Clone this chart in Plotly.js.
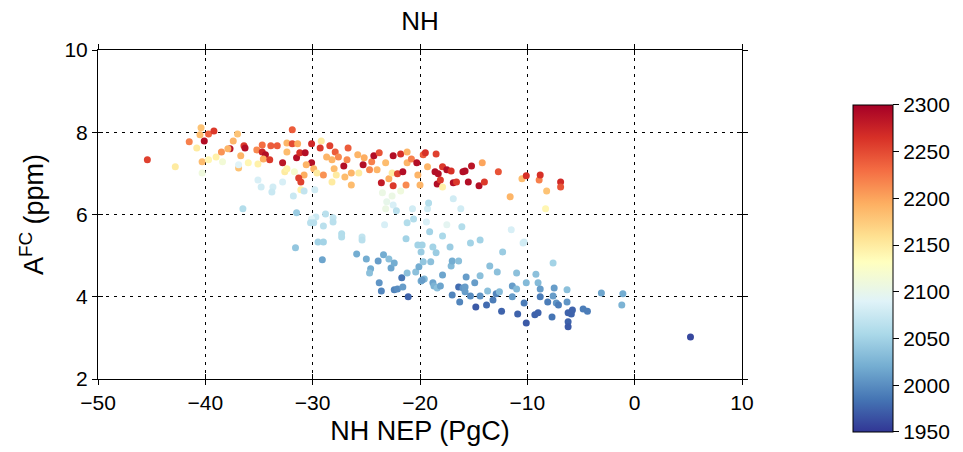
<!DOCTYPE html>
<html>
<head>
<meta charset="utf-8">
<script src="https://cdn.plot.ly/plotly-3.0.1.min.js"></script>
<style>
html,body{margin:0;padding:0;background:#fff;}
#chart{width:963px;height:452px;}
</style>
</head>
<body>
<div id="chart"></div>
<script>
// NH NEP (PgC)
const nep = [
-45.4,-42.8,-41.5,-40.4,-40.5,-39.7,-39.2,-40.1,-40.8,-40.3,-39.7,-40.3,-39.0,-38.5,-38.4,-37.7,-37.9,-37.4,-37.0,-36.7,
-36.9,-36.9,-36.4,-36.3,-36.0,-35.2,-35.1,-34.7,-34.7,-34.4,-34.6,-34.0,-33.9,-33.3,-32.8,-32.4,-32.4,-31.9,-31.9,-31.4,
-31.5,-31.2,-30.7,-30.1,-30.1,-30.6,-29.9,-29.6,-32.6,-32.4,-31.7,-30.8,-31.3,-31.1,-31.1,-29.2,-29.3,-28.4,-28.7,-29.0,
-28.2,-27.9,-27.6,-28.0,-28.2,-27.8,-27.1,-26.7,-26.8,-27.0,-26.4,-26.4,-25.8,-25.7,-25.3,-25.2,-24.7,-24.5,-24.3,-24.0,
-23.8,-23.6,-23.2,-22.9,-22.5,-22.5,-22.6,-22.1,-21.8,-21.6,-21.2,-21.3,-21.2,-20.8,-20.3,-20.2,-20.0,-19.7,-19.5,-19.3,
-18.5,-18.6,-18.3,-18.4,-18.1,-17.9,-17.5,-17.1,-16.9,-16.6,-17.9,-16.0,-15.8,-15.2,-15.5,-14.5,-14.0,-14.2,-12.7,-11.6,
-10.5,-10.1,-8.9,-8.8,-8.2,-8.3,-6.9,-6.9,
-35.1,-34.8,-33.7,-33.8,-32.8,-31.8,-36.5,-31.5,-29.8,-30.8,-29.7,-30.1,-30.2,-29.9,-28.8,-28.1,-28.1,-29.0,-27.3,-27.3,
-25.4,-25.4,-31.6,-29.5,-29.0,-23.3,-23.5,-23.1,-22.6,-22.5,-21.8,-22.2,-23.2,-20.7,-19.3,-19.2,-21.2,-20.6,-19.4,-19.1,
-17.9,-17.5,-16.9,-16.2,-16.1,-15.3,-14.4,-11.5,-10.4,-10.3,-21.3,-20.2,-19.8,-19.9,-18.8,-18.5,-17.2,-12.3,-7.6,
-29.1,-25.9,-25.0,-24.6,-24.7,-23.9,-23.4,-22.9,-22.7,-22.4,-23.8,-23.6,-21.7,-22.4,-22.1,-21.6,-21.1,-21.2,-20.4,-20.1,
-19.7,-19.0,-19.9,-19.6,-18.8,-18.7,-18.4,-18.1,-17.9,-17.1,-17.0,-16.4,-17.0,-16.4,-16.0,-15.8,-15.8,-16.3,-15.7,-14.9,
-14.8,-15.3,-14.4,-14.4,-13.7,-13.5,-13.2,-13.8,-12.9,-12.8,-12.6,-12.4,-11.4,-11.4,-11.0,-11.0,-10.9,-10.3,-10.1,-10.1,
-9.3,-9.0,-9.0,-9.2,-8.8,-8.8,-8.1,-7.7,-7.6,-7.5,-7.3,-7.1,-6.3,-6.3,-6.2,-5.9,-5.8,-6.2,-6.2,-4.8,
-4.4,-3.1,-1.1,-1.2,5.2,-19.8
];
// A^FC (ppm)
const afc = [
7.33,7.16,7.77,8.11,7.94,7.96,8.03,7.79,7.62,7.28,7.33,7.01,7.40,7.52,7.28,7.60,7.60,7.79,7.96,7.43,
7.13,7.21,7.67,7.62,7.26,7.57,7.23,7.69,7.52,7.45,7.35,7.33,7.67,7.67,7.26,7.52,7.74,8.06,7.72,7.72,
7.38,7.50,7.50,7.72,7.26,7.21,7.11,7.01,7.04,7.11,7.04,6.96,6.89,6.79,6.60,7.79,7.62,7.67,7.40,6.96,
7.33,7.52,7.40,7.11,6.79,6.96,7.18,7.62,7.33,6.91,7.01,6.72,7.45,7.01,7.21,7.38,7.09,7.28,7.43,7.09,
7.50,6.77,7.26,6.87,7.43,6.70,7.01,6.99,7.47,7.04,7.26,6.72,7.52,7.35,7.26,6.96,6.72,7.45,7.50,7.16,
7.47,7.04,6.99,6.74,6.84,7.16,7.09,7.06,6.77,6.79,6.67,7.04,7.06,7.18,6.79,6.70,6.79,7.26,7.04,6.43,
6.87,6.94,6.84,6.96,6.57,6.14,6.79,6.67,
6.84,6.67,6.67,6.55,6.79,6.45,6.14,6.04,6.60,6.57,5.94,5.89,5.80,5.80,6.01,5.92,5.82,5.72,5.53,5.45,
5.45,5.38,5.19,5.33,5.33,5.75,6.53,6.31,6.45,6.23,6.57,6.09,6.14,6.14,6.14,6.28,5.80,5.89,5.82,5.58,
5.48,5.75,6.38,6.14,5.70,5.31,5.38,5.63,5.31,5.33,5.41,5.26,5.26,5.09,5.21,5.07,5.21,5.09,4.82,
4.90,5.04,4.92,4.68,4.58,4.87,5.02,4.92,4.70,4.82,4.34,4.14,4.46,4.17,4.19,4.24,4.00,4.58,4.60,4.73,
4.85,4.85,4.38,4.43,4.34,4.26,4.21,4.26,4.53,4.75,4.87,4.87,4.04,4.24,4.21,4.24,4.12,3.87,4.48,4.34,
3.75,4.02,4.02,4.51,4.14,4.75,3.92,3.80,4.07,4.60,4.12,3.65,4.26,4.00,4.19,4.58,3.58,3.85,4.34,3.36,
3.56,3.61,4.34,4.55,4.19,4.00,3.87,3.51,4.02,4.21,3.85,3.80,4.17,3.87,3.61,3.58,3.68,3.39,3.27,3.70,
3.65,4.09,4.07,3.80,3.02,4.41
];
// Year (colour)
const year = [
2255,2150,2220,2180,2185,2235,2260,2290,2150,2185,2140,2110,2145,2210,2115,2285,2190,2190,2180,2190,
2180,2090,2260,2290,2140,2215,2145,2230,2275,2290,2195,2260,2240,2240,2285,2185,2190,2240,2250,2195,
2290,2265,2290,2270,2290,2190,2190,2150,2150,2145,2120,2195,2255,2255,2145,2150,2260,2255,2190,2210,
2190,2240,2215,2185,2150,2150,2290,2240,2215,2185,2190,2185,2190,2150,2290,2195,2215,2220,2290,2190,
2245,2280,2185,2195,2290,2260,2150,2255,2265,2290,2190,2215,2190,2220,2290,2190,2190,2240,2265,2190,
2255,2290,2290,2290,2260,2260,2290,2265,2290,2260,2145,2290,2290,2285,2290,2290,2260,2200,2245,2190,
2185,2265,2220,2265,2180,2140,2270,2245,
2085,2080,2080,2075,2085,2075,2060,2045,2080,2070,2075,2090,2065,2065,2065,2070,2065,2065,2060,2060,
2070,2065,2040,2050,2050,2085,2105,2100,2105,2085,2110,2065,2105,2080,2080,2060,2060,2060,2085,2050,
2055,2095,2080,2080,2060,2050,2050,2085,2080,2080,2050,2050,2050,2045,2050,2045,2045,2045,2050,
2015,2020,2020,2020,2035,2010,2020,2035,2015,2020,2005,1995,1985,1995,2000,2010,1975,2035,2035,2020,
2040,2035,2020,2030,2015,2025,2035,2015,2015,2030,2020,2035,1995,1980,2005,2010,2010,1995,2010,2010,
1970,2000,2005,2035,2035,2035,1990,1980,1995,2035,2030,1975,2010,2010,2030,2035,1975,1990,2030,1970,
1975,1975,2030,2035,2010,1990,1990,1985,2010,2010,2005,1990,2035,2005,1975,1975,1975,1975,1970,1990,
1990,2015,2020,2025,1960,2010
];
const cbTicks = [1950,2000,2050,2100,2150,2200,2250,2300];
const xTicks = [-50,-40,-30,-20,-10,0,10];
const yTicks = [2,4,6,8,10];

const scale = [
 [0,'rgb(49,54,149)'],[0.1,'rgb(69,117,180)'],[0.2,'rgb(116,173,209)'],[0.3,'rgb(171,217,233)'],
 [0.4,'rgb(224,243,248)'],[0.52,'rgb(255,255,191)'],[0.6,'rgb(254,224,144)'],[0.7,'rgb(253,174,97)'],
 [0.8,'rgb(244,109,67)'],[0.9,'rgb(215,48,39)'],[1,'rgb(165,0,38)']
];
const FONT = 'Liberation Sans, Arial, Helvetica, sans-serif';

const trace = {
  type:'scatter', mode:'markers', x:nep, y:afc,
  marker:{
    size:7, color:year, cmin:1950, cmax:2300, colorscale:scale, showscale:true,
    line:{width:0},
    colorbar:{
      thickness:40, lenmode:'pixels', len:327, x:1.1724, xanchor:'left', xpad:0,
      y:0.336, yanchor:'middle', ypad:0,
      outlinewidth:1, outlinecolor:'#000',
      tickmode:'array', tickvals:cbTicks, ticks:'outside', ticklen:6, tickcolor:'#000',
      tickfont:{family:FONT, size:21, color:'#000'}
    }
  },
  hoverinfo:'x+y'
};
const dummy = {type:'scatter', mode:'markers', x:[null], y:[null], xaxis:'x2', yaxis:'y2', showlegend:false, hoverinfo:'skip'};

const axBase = {
  showline:true, linecolor:'#000', linewidth:1, mirror:'allticks',
  ticks:'outside', ticklen:5, tickcolor:'#000', tickwidth:1,
  showgrid:true, gridcolor:'#000', gridwidth:1, griddash:'3px,5px',
  zeroline:false, tickfont:{family:FONT, size:21, color:'#000'}
};
const layout = {
  width:963, height:452,
  margin:{l:98, r:221, t:50, b:73},
  paper_bgcolor:'#fff', plot_bgcolor:'#fff',
  showlegend:false,
  title:{text:'NH', font:{family:FONT, size:26, color:'#000'}, x:0.5, xref:'paper', xanchor:'center', y:0.953, yref:'container', yanchor:'middle'},
  xaxis:Object.assign({}, axBase, {range:[-50,10], tickmode:'array', tickvals:xTicks,
    title:{text:'NH NEP (PgC)', font:{family:FONT, size:27, color:'#000'}, standoff:7}}),
  yaxis:Object.assign({}, axBase, {range:[2,10], tickmode:'array', tickvals:yTicks,
    title:{text:'A<sup>FC</sup> (ppm)', font:{family:FONT, size:27, color:'#000'}, standoff:12}}),
  xaxis2:{overlaying:'x', anchor:'y2', range:[-50,10], tickmode:'array', tickvals:xTicks, ticks:'inside', ticklen:5,
    tickcolor:'#000', showticklabels:false, showgrid:false, zeroline:false, showline:false, mirror:'allticks'},
  yaxis2:{overlaying:'y', anchor:'x2', range:[2,10], tickmode:'array', tickvals:yTicks, ticks:'inside', ticklen:5,
    tickcolor:'#000', showticklabels:false, showgrid:false, zeroline:false, showline:false, mirror:'allticks'}
};
Plotly.newPlot('chart', [trace, dummy], layout, {displayModeBar:false, staticPlot:true});
</script>
</body>
</html>
